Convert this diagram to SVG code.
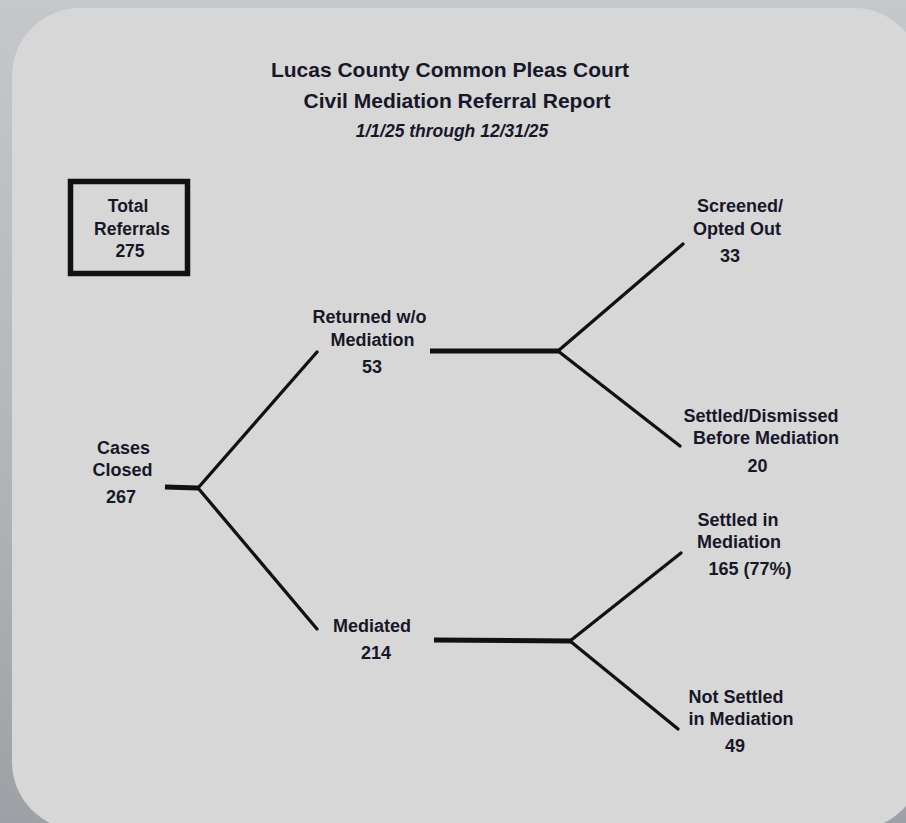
<svg xmlns="http://www.w3.org/2000/svg" width="906" height="823" viewBox="0 0 906 823">
<defs>
<linearGradient id="bg" x1="0" y1="0" x2="0" y2="1">
<stop offset="0" stop-color="#c4c8ca"/>
<stop offset="0.5" stop-color="#b4b8bb"/>
<stop offset="1" stop-color="#9da1a5"/>
</linearGradient>
<style>
text{font-family:"Liberation Sans",Arial,sans-serif;font-weight:bold;fill:#17172a;text-anchor:middle}
.t{font-size:21px}
.d{font-size:17.5px;font-style:italic}
.n{font-size:18px}
.b{font-size:17.5px}
.thick{stroke:#111;stroke-width:5;fill:none}
.thin{stroke:#111;stroke-width:3.3;fill:none;stroke-linecap:round}
</style>
</defs>
<rect x="0" y="0" width="906" height="823" fill="url(#bg)"/>
<rect x="12" y="8" width="910" height="822" rx="68" ry="68" fill="#d7d7d7"/>
<g id="title">
<text class="t" x="450" y="77">Lucas County Common Pleas Court</text>
<text class="t" x="457" y="108">Civil Mediation Referral Report</text>
<text class="d" x="452" y="137">1/1/25 through 12/31/25</text>
</g>
<g id="total">
<rect x="70.5" y="181.5" width="117" height="92" fill="none" stroke="#111" stroke-width="5.5"/>
<text class="b" x="128" y="212">Total</text>
<text class="b" x="132" y="235">Referrals</text>
<text class="b" x="130" y="257">275</text>
</g>
<g id="connectors">
<line class="thick" x1="165" y1="487" x2="198" y2="488"/>
<line class="thin" x1="198" y1="488" x2="317" y2="352"/>
<line class="thin" x1="198" y1="488" x2="317" y2="629"/>
<line class="thick" x1="430" y1="351" x2="559" y2="351"/>
<line class="thin" x1="558" y1="351" x2="683" y2="244"/>
<line class="thin" x1="558" y1="351" x2="680" y2="446"/>
<line class="thick" x1="434" y1="640" x2="571" y2="641"/>
<line class="thin" x1="570" y1="641" x2="681" y2="553"/>
<line class="thin" x1="570" y1="641" x2="678" y2="729"/>
</g>
<g id="cases-closed">
<text class="n" x="123.5" y="454">Cases</text>
<text class="n" x="122.5" y="476">Closed</text>
<text class="n" x="121" y="503">267</text>
</g>
<g id="returned">
<text class="n" x="369.5" y="323">Returned w/o</text>
<text class="n" x="372.5" y="346">Mediation</text>
<text class="n" x="372" y="373">53</text>
</g>
<g id="mediated">
<text class="n" x="372" y="632">Mediated</text>
<text class="n" x="376" y="659">214</text>
</g>
<g id="screened">
<text class="n" x="740" y="212">Screened/</text>
<text class="n" x="737" y="235">Opted Out</text>
<text class="n" x="730" y="262">33</text>
</g>
<g id="settled-dismissed">
<text class="n" x="761" y="422">Settled/Dismissed</text>
<text class="n" x="766" y="444">Before Mediation</text>
<text class="n" x="757.5" y="472">20</text>
</g>
<g id="settled-in">
<text class="n" x="738" y="526">Settled in</text>
<text class="n" x="739" y="548">Mediation</text>
<text class="n" x="750" y="575">165 (77%)</text>
</g>
<g id="not-settled">
<text class="n" x="736" y="703">Not Settled</text>
<text class="n" x="741" y="725">in Mediation</text>
<text class="n" x="735" y="752">49</text>
</g>
</svg>
